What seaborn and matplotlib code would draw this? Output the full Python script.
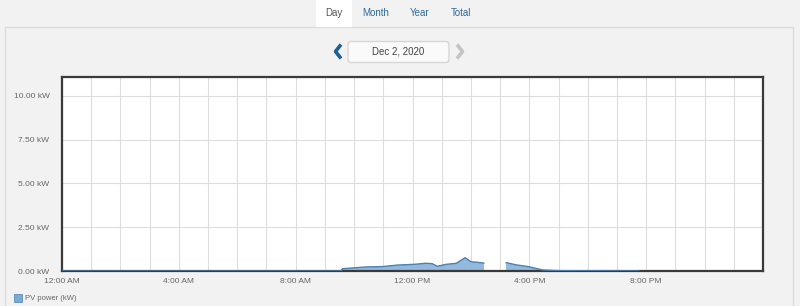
import numpy as np
import pandas as pd
import matplotlib
matplotlib.use("Agg")
import matplotlib.pyplot as plt
from matplotlib.patches import Rectangle, FancyBboxPatch
import seaborn as sns

# ---- data (hours of day, kW) ----
hours = [0.0, 9.55, 9.6, 10.0, 10.4, 10.96, 11.5, 12.05, 12.45, 12.67, 12.85,
         13.15, 13.5, 13.8, 14.0, 14.2, 14.45, 14.8, 15.2, 15.55, 16.0, 16.45,
         17.0, 19.75]
pv_kw = [0.0, 0.0, 0.13, 0.18, 0.23, 0.25, 0.34, 0.38, 0.44, 0.42, 0.27,
         0.38, 0.44, 0.76, 0.53, 0.50, 0.45, np.nan, 0.48, 0.35, 0.24, 0.06,
         0.02, 0.0]
y_ticks = [0, 2.5, 5.0, 7.5, 10.0]
y_labels = ["0.00 kW", "2.50 kW", "5.00 kW", "7.50 kW", "10.00 kW"]
x_ticks = [0, 4, 8, 12, 16, 20]
x_labels = ["12:00 AM", "4:00 AM", "8:00 AM", "12:00 PM", "4:00 PM", "8:00 PM"]
tabs = ["Day", "Month", "Year", "Total"]
date_text = "Dec 2, 2020"
series_name = "PV power (kW)"

df = pd.DataFrame({"hour": hours, "kw": pv_kw})
df["seg"] = df["kw"].isna().cumsum()
df_line = df.dropna()

sns.set_theme(style="white")
plt.rcParams["font.family"] = ["Liberation Sans", "DejaVu Sans"]

W, H = 800, 306
fig = plt.figure(figsize=(W / 100, H / 100), dpi=100)
fig.patch.set_facecolor("#f2f2f2")

# background overlay for panel / tabs
bg = fig.add_axes([0, 0, 1, 1])
bg.set_xlim(0, W)
bg.set_ylim(H, 0)
bg.axis("off")
bg.add_patch(Rectangle((5, 27), 788, 290, facecolor="#f2f2f2", edgecolor="#dcdcdc", lw=1))
bg.add_patch(Rectangle((316, 0), 36, 27, facecolor="white", edgecolor="none"))
tab_x = [334, 376, 420, 461]
for t, x in zip(tabs, tab_x):
    bg.text(x, 13.5, t, ha="center", va="center", fontsize=7,
            color="#555555" if t == "Day" else "#2f6a99")
bg.add_patch(FancyBboxPatch((348, 41.5), 101, 21, boxstyle="round,pad=0,rounding_size=3",
                            facecolor="#fafafa", edgecolor="#d6d6d6", lw=1))
bg.text(398.5, 52, date_text, ha="center", va="center", fontsize=7, color="#444444")
bg.plot([341, 335.5, 341], [44.5, 51.5, 58.5], color="#1f5f94", lw=2.6, solid_capstyle="butt")
bg.plot([457, 462.5, 457], [44.5, 51.5, 58.5], color="#c4c4c4", lw=2.6, solid_capstyle="butt")
bg.add_patch(Rectangle((14, 294), 8, 8, facecolor="#7aa9d1", edgecolor="#5d8fbd", lw=0.6))
bg.text(25, 298.5, series_name, ha="left", va="center", fontsize=5.5, color="#666666")

# main chart
ax = fig.add_axes([62 / W, 1 - 271 / H, 701 / W, 194 / H])
ax.set_facecolor("white")
ax.fill_between(df["hour"], 0, df["kw"], color="#8db6da", alpha=0.95, lw=0, zorder=2)
sns.lineplot(data=df_line, x="hour", y="kw", units="seg", estimator=None, ax=ax,
             color="#4d80b0", lw=1.0, zorder=3)
ax.set_xlim(0, 24)
ax.set_ylim(0, 11.08)
ax.set_xticks(np.arange(0, 25, 1), minor=True)
ax.set_xticks(x_ticks)
ax.set_xticklabels(x_labels)
ax.set_yticks(y_ticks)
ax.set_yticklabels(y_labels)
ax.grid(True, which="both", axis="x", color="#dddddd", lw=0.8)
ax.grid(True, which="major", axis="y", color="#dddddd", lw=0.8)
ax.set_axisbelow(True)
ax.tick_params(axis="both", which="both", length=0, labelsize=6, labelcolor="#666666")
ax.tick_params(axis="x", pad=5)
ax.tick_params(axis="y", pad=9)
ax.set_xlabel("")
ax.set_ylabel("")
for s in ax.spines.values():
    s.set_visible(True)
    s.set_color("#3a3a3a")
    s.set_linewidth(1.6)
if ax.get_legend():
    ax.get_legend().remove()

fig.savefig("out.png", dpi=100, facecolor=fig.get_facecolor())
